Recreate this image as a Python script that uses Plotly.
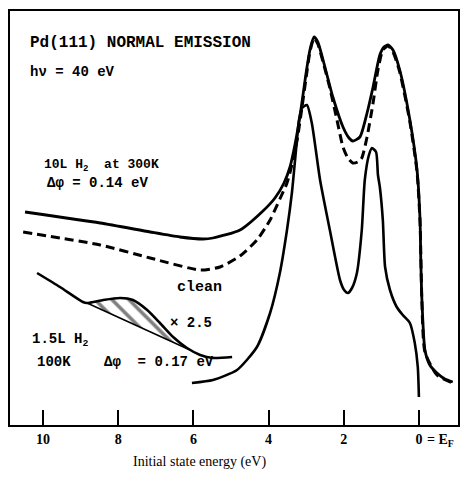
import plotly.graph_objects as go

# ---- data (binding energy in eV, intensity in arbitrary units) ----
h10_E = [10.48, 8.48, 7.15, 6.36, 5.74, 5.48, 4.76, 4.15, 3.83, 3.59, 3.43, 3.30, 3.16, 3.01, 2.90, 2.79,
         2.69, 2.55, 2.29, 2.02, 1.86, 1.76, 1.57, 1.38, 1.22, 1.04, 0.93, 0.82, 0.69, 0.51, 0.24, 0.05,
         -0.03, -0.05, -0.08, -0.16, -0.29, -0.48, -0.69, -0.90]
h10_I = [21.3, 20.2, 19.3, 18.8, 18.6, 18.7, 19.5, 21.4, 22.7, 24.2, 25.8, 28.0, 31.0, 35.0, 37.5, 38.8,
         38.3, 36.5, 32.8, 29.8, 28.7, 28.4, 28.8, 31.2, 33.8, 37.0, 37.8, 38.0, 37.5, 35.5, 30.5, 25.5,
         20.5, 16.5, 12.5, 7.5, 6.0, 5.2, 4.6, 4.3]

clean_E = [10.53, 8.48, 7.15, 5.82, 5.29, 4.76, 4.31, 3.96, 3.70, 3.51, 3.38, 3.24, 3.14, 3.01, 2.90, 2.79,
           2.69, 2.55, 2.37, 2.18, 2.02, 1.89, 1.76, 1.62, 1.52, 1.38, 1.22, 1.09, 0.96, 0.82, 0.69, 0.51,
           0.24, 0.05, -0.03, -0.08, -0.16, -0.48, -0.90]
clean_I = [19.3, 18.0, 16.7, 15.5, 15.8, 16.9, 18.5, 20.5, 22.6, 24.2, 26.0, 28.5, 31.0, 34.5, 37.3, 38.7,
           38.1, 36.3, 33.7, 30.5, 27.8, 26.7, 26.2, 26.3, 26.7, 28.8, 32.2, 35.5, 37.5, 37.9, 37.3, 35.3,
           30.3, 25.3, 20.3, 12.3, 7.3, 5.0, 4.2]

h15_E = [6.04, 5.48, 4.84, 4.31, 3.96, 3.70, 3.51, 3.38, 3.27, 3.19, 3.11, 2.98, 2.85, 2.63, 2.37, 2.10,
         1.99, 1.89, 1.78, 1.65, 1.52, 1.44, 1.33, 1.25, 1.14, 1.09, 1.04, 0.96, 0.90, 0.77, 0.59, 0.43,
         0.24, 0.11, 0.03, 0.00]
h15_I = [4.2, 4.5, 5.5, 7.8, 11.2, 15.2, 19.5, 23.2, 27.5, 30.5, 31.7, 32.0, 30.2, 24.5, 19.5, 14.5,
         13.5, 13.2, 13.7, 15.2, 19.5, 24.5, 27.0, 27.7, 27.3, 25.0, 23.8, 20.5, 15.8, 13.5, 11.8, 11.0,
         10.2, 8.2, 5.8, 2.8]

x25_E = [10.16, 9.55, 8.94, 8.83, 8.40, 7.95, 7.61, 7.23, 6.89, 6.54, 6.17, 5.82, 5.48, 4.97]
x25_I = [15.2, 13.8, 12.3, 12.2, 12.5, 12.7, 12.5, 11.5, 10.2, 8.8, 7.7, 7.0, 6.7, 6.8]

bg_E = [8.83, 6.09]
bg_I = [12.2, 7.5]

tick_vals = [10, 8, 6, 4, 2, 0]
tick_text = ["10", "8", "6", "4", "2", "0"]

# ---- figure ----
fig = go.Figure()

# hatched area between x2.5 curve and the straight background
hatch_E = [e for e in x25_E if bg_E[1] <= e <= bg_E[0]] + [bg_E[1], bg_E[0]]
hatch_I = [i for e, i in zip(x25_E, x25_I) if bg_E[1] <= e <= bg_E[0]] + [bg_I[1], bg_I[0]]
fig.add_trace(go.Scatter(x=hatch_E, y=hatch_I, mode="lines", fill="toself",
                         fillcolor="rgba(0,0,0,0)", line=dict(width=0),
                         fillpattern=dict(shape="\\", size=12, solidity=0.3,
                                          fgcolor="black", bgcolor="rgba(0,0,0,0)"),
                         hoverinfo="skip"))
fig.add_trace(go.Scatter(x=bg_E, y=bg_I, mode="lines", line=dict(color="black", width=1.5)))

line_common = dict(color="black", shape="spline", smoothing=0.6)
fig.add_trace(go.Scatter(x=clean_E, y=clean_I, mode="lines",
                         line=dict(width=3, dash="9px,5px", **line_common)))
fig.add_trace(go.Scatter(x=h10_E, y=h10_I, mode="lines", line=dict(width=2.8, **line_common)))
fig.add_trace(go.Scatter(x=h15_E, y=h15_I, mode="lines", line=dict(width=2.6, **line_common)))
fig.add_trace(go.Scatter(x=x25_E, y=x25_I, mode="lines", line=dict(width=2.6, **line_common)))

mono = "Liberation Mono"
def note(x, y, text, size=14):
    fig.add_annotation(x=x, y=y, xref="x", yref="y", text=text, showarrow=False,
                       xanchor="left", yanchor="middle",
                       font=dict(family=mono, size=size, color="black"))

note(10.40, 38.2, "<b>Pd(111) NORMAL EMISSION</b>", 16)
note(10.40, 35.3, "<b>hν = 40 eV</b>", 14)
note(10.03, 26.0, "<b>10L H<sub>2</sub>  at 300K</b>", 13)
note(9.95, 24.2, "<b>Δφ = 0.14 eV</b>", 14)
note(6.49, 13.8, "<b>clean</b>", 15)
note(6.68, 10.2, "<b>× 2.5</b>", 14)
note(10.35, 8.5, "<b>1.5L H<sub>2</sub></b>", 14)
note(10.21, 6.3, "<b>100K</b>", 14)
note(8.43, 6.3, "<b>Δφ  = 0.17 eV</b>", 14)

fig.add_annotation(x=0.926, y=-0.012, xref="paper", yref="paper", text="<b>= E<sub>F</sub></b>",
                   showarrow=False, xanchor="left", yanchor="top",
                   font=dict(family="Liberation Serif", size=14, color="black"))
fig.add_annotation(x=0.423, y=-0.089, xref="paper", yref="paper", text="Initial state energy (eV)",
                   showarrow=False, xanchor="center", yanchor="middle",
                   font=dict(family="Liberation Serif", size=14, color="black"))

fig.update_layout(
    width=469, height=479, margin=dict(l=10, r=11, t=11, b=54),
    paper_bgcolor="white", plot_bgcolor="white", showlegend=False,
    xaxis=dict(range=[10.88, -1.04], tickvals=tick_vals,
               ticktext=["<b>" + t + "</b>" for t in tick_text],
               ticks="inside", ticklen=15, tickwidth=2, tickcolor="black",
               showline=True, linecolor="black", linewidth=2, mirror=True,
               showgrid=False, zeroline=False,
               tickfont=dict(family="Liberation Serif", size=14, color="black")),
    yaxis=dict(range=[0, 41.4], showticklabels=False, ticks="",
               showline=True, linecolor="black", linewidth=2, mirror=True,
               showgrid=False, zeroline=False),
)

fig.write_html("out.html")
